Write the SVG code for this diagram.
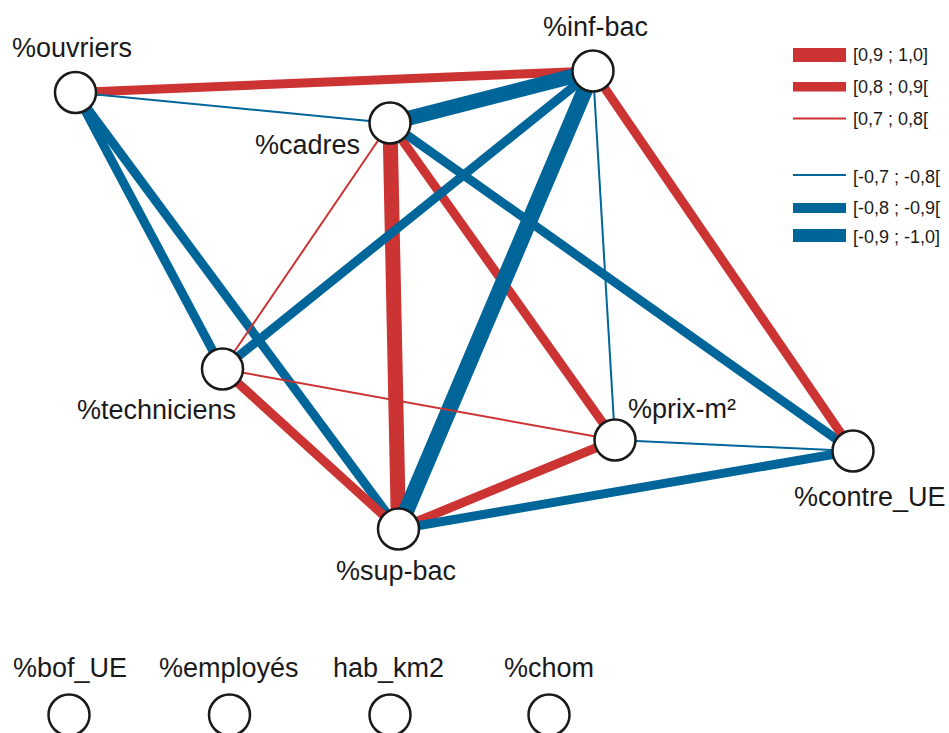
<svg xmlns="http://www.w3.org/2000/svg" width="949" height="733" viewBox="0 0 949 733">
<style>
.e{fill:none;stroke-linecap:butt}
.r{stroke:#CC3333}
.b{stroke:#00669A}
.w1{stroke-width:15}
.w2{stroke-width:9}
.w3{stroke-width:2}
.n{fill:#fff;stroke:#1a1a1a;stroke-width:2.5}
.t{font-family:"Liberation Sans",Arial,sans-serif;font-size:27px;fill:#1a1a1a}
.lg{font-family:"Liberation Sans",Arial,sans-serif;font-size:18px;fill:#1a1a1a}
</style>
<rect width="949" height="733" fill="#fff"/>
<g id="connectors">
<line class="e r w2" x1="75.5" y1="92.5" x2="593" y2="71"/>
<line class="e b w3" x1="75.5" y1="92.5" x2="390" y2="123"/>
<line class="e b w2" x1="75.5" y1="92.5" x2="222.5" y2="369"/>
<line class="e b w2" x1="75.5" y1="92.5" x2="398.5" y2="529"/>
<line class="e b w1" x1="390" y1="123" x2="593" y2="71"/>
<line class="e r w3" x1="390" y1="123" x2="222.5" y2="369"/>
<line class="e r w1" x1="390" y1="123" x2="398.5" y2="529"/>
<line class="e r w2" x1="390" y1="123" x2="615" y2="440"/>
<line class="e b w2" x1="390" y1="123" x2="853" y2="451"/>
<line class="e b w2" x1="593" y1="71" x2="222.5" y2="369"/>
<line class="e b" stroke-width="16" x1="593" y1="71" x2="398.5" y2="529"/>
<line class="e b w3" x1="593" y1="71" x2="615" y2="440"/>
<line class="e r w2" x1="593" y1="71" x2="853" y2="451"/>
<line class="e r w2" x1="222.5" y1="369" x2="398.5" y2="529"/>
<line class="e r w3" x1="222.5" y1="369" x2="615" y2="440"/>
<line class="e r w2" x1="398.5" y1="529" x2="615" y2="440"/>
<line class="e b w2" x1="398.5" y1="529" x2="853" y2="451"/>
<line class="e b w3" x1="615" y1="440" x2="853" y2="451"/>
</g>
<g id="ouvriers"><circle class="n" cx="75.5" cy="92.5" r="20.5"/><text class="t" x="12" y="57">%ouvriers</text></g>
<g id="inf-bac"><circle class="n" cx="593" cy="71" r="20.5"/><text class="t" x="543" y="36">%inf-bac</text></g>
<g id="cadres"><circle class="n" cx="390" cy="123" r="20.5"/><text class="t" x="255" y="154">%cadres</text></g>
<g id="techniciens"><circle class="n" cx="222.5" cy="369" r="20.5"/><text class="t" x="77" y="419">%techniciens</text></g>
<g id="prix-m2"><circle class="n" cx="615" cy="440" r="20.5"/><text class="t" x="628" y="418">%prix-m²</text></g>
<g id="contre_UE"><circle class="n" cx="853" cy="451" r="20.5"/><text class="t" x="794" y="506">%contre_UE</text></g>
<g id="sup-bac"><circle class="n" cx="398.5" cy="529" r="20.5"/><text class="t" x="336" y="580">%sup-bac</text></g>
<g id="bof_UE"><circle class="n" cx="69" cy="715" r="20.5"/><text class="t" x="13" y="677">%bof_UE</text></g>
<g id="employes"><circle class="n" cx="229.5" cy="715" r="20.5"/><text class="t" x="159" y="677">%employés</text></g>
<g id="hab_km2"><circle class="n" cx="390" cy="715" r="20.5"/><text class="t" x="333" y="677">hab_km2</text></g>
<g id="chom"><circle class="n" cx="549" cy="715" r="20.5"/><text class="t" x="504" y="677">%chom</text></g>
<g id="legend">
<rect x="793" y="48" width="53" height="14" fill="#CC3333"/>
<rect x="793" y="82" width="53" height="9.5" fill="#CC3333"/>
<rect x="793" y="117.5" width="53" height="2" fill="#CC3333"/>
<rect x="793" y="174" width="53" height="2" fill="#00669A"/>
<rect x="793" y="203" width="53" height="10" fill="#00669A"/>
<rect x="793" y="229" width="53" height="13" fill="#00669A"/>
<text class="lg" x="853" y="61">[0,9 ; 1,0]</text>
<text class="lg" x="853" y="93">[0,8 ; 0,9[</text>
<text class="lg" x="853" y="125">[0,7 ; 0,8[</text>
<text class="lg" x="853" y="183">[-0,7 ; -0,8[</text>
<text class="lg" x="853" y="214">[-0,8 ; -0,9[</text>
<text class="lg" x="853" y="243">[-0,9 ; -1,0]</text>
</g>
</svg>
